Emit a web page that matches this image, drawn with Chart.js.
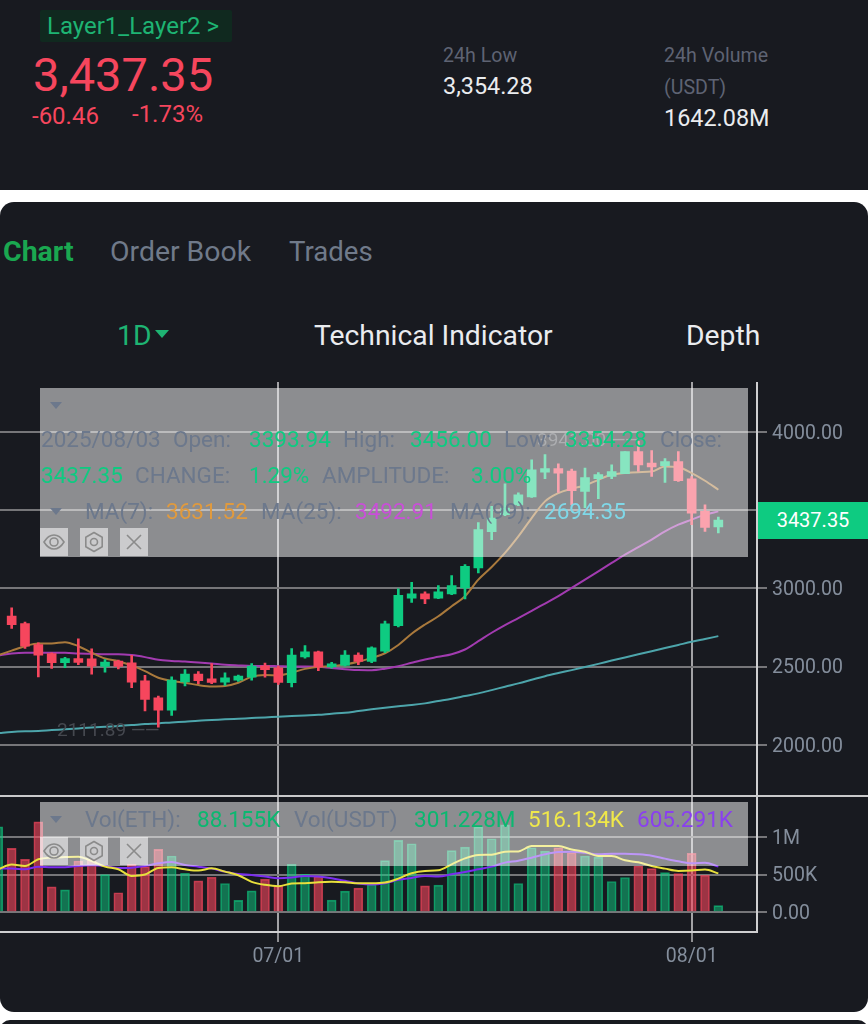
<!DOCTYPE html>
<html>
<head>
<meta charset="utf-8">
<title>ETH 1D</title>
<script src="https://cdn.jsdelivr.net/npm/chart.js@4"></script>
<style>
html, body { margin: 0; padding: 0; background: #fff; }
#page { position: relative; width: 868px; height: 1024px; overflow: hidden; background: #fff; font-family: Roboto, sans-serif; }
.block { position: absolute; background: #181a20; }
.t { position: absolute; white-space: nowrap; transform: translateY(-50%); z-index: 6; }
.lbl { font-size: 22.5px; color: #6c788c; }
.gr { font-size: 22.5px; color: #0ecb81; }
.hdr { font-size: 19.6px; color: #5e6373; }
.val { font-size: 23.4px; color: #eaecef; }
.tab { font-size: 27.6px; color: #707a8a; }
.btn { font-size: 28.3px; color: #eaecef; }
.ov { position: absolute; left: 40px; width: 708px; background: rgba(255,255,255,0.5); z-index: 4; }
.ico { position: absolute; width: 28px; height: 28px; background: rgba(255,255,255,0.55); z-index: 5; }
.ico svg { display: block; width: 28px; height: 28px; fill: none; stroke: #8b8b8b; stroke-width: 1.6; }
.tri { position: absolute; width: 0; height: 0; border-left: 6px solid transparent; border-right: 6px solid transparent; border-top: 7px solid #6c788c; z-index: 5; }
.mark { position: absolute; white-space: nowrap; transform: translateY(-50%); font-size: 19px; z-index: 3; }
canvas { position: absolute; left: 0; top: 382px; z-index: 2; }
</style>
</head>
<body>
<div id="page">
  <div class="block" style="left:0;top:0;width:868px;height:190px"></div>
  <div class="block" style="left:0;top:202px;width:868px;height:810px;border-radius:14px"></div>
  <div class="block" style="left:0;top:1020px;width:868px;height:30px;border-radius:10px"></div>

  <div style="position:absolute;left:40px;top:10px;width:192px;height:32px;background:#10291f;border-radius:2px"></div>
  <span class="t" style="left:47px;top:26px;font-size:24px;color:#1eb473">Layer1_Layer2 &gt;</span>
  <span class="t" style="left:33px;top:74px;font-size:47px;color:#f6465d">3,437.35</span>
  <span class="t" style="left:32px;top:116px;font-size:24px;color:#f6465d">-60.46</span>
  <span class="t" style="left:132px;top:114px;font-size:24px;color:#f6465d">-1.73%</span>
  <span class="t hdr" style="left:443px;top:55px">24h Low</span>
  <span class="t val" style="left:443px;top:86px">3,354.28</span>
  <span class="t hdr" style="left:664px;top:55px">24h Volume</span>
  <span class="t hdr" style="left:664px;top:87px">(USDT)</span>
  <span class="t val" style="left:664px;top:118px">1642.08M</span>

  <span class="t tab" style="left:3px;top:251px;font-size:28.5px;font-weight:700;color:#1aa750">Chart</span>
  <span class="t tab" style="left:110px;top:251px;font-size:28.4px">Order Book</span>
  <span class="t tab" style="left:289px;top:251px">Trades</span>
  <span class="t btn" style="left:117px;top:335px;color:#1eb473">1D</span>
  <div class="tri" style="left:155px;top:330px;border-top-color:#1eb473;border-left-width:7px;border-right-width:7px;border-top-width:8px"></div>
  <span class="t btn" style="left:314px;top:335px">Technical Indicator</span>
  <span class="t btn" style="left:686px;top:335px">Depth</span>

  <canvas id="grafica" width="868" height="600"></canvas>

  <div style="position:absolute;left:0;top:795px;width:868px;height:2px;background:#c9c9cb;z-index:3"></div>
  <span class="mark" style="left:57px;top:729px;color:#45484f">2111.89 <span style="letter-spacing:-1px">——</span></span>
  <span class="mark" style="left:537px;top:439px;color:#5a5d63">3941.00 <span style="letter-spacing:-1px">——</span></span>

  <div class="ov" style="top:388px;height:169px"></div>
  <div class="ov" style="top:802px;height:64px"></div>

  <div class="tri" style="left:50px;top:402px"></div>
  <span class="t lbl" style="left:41px;top:439px">2025/08/03</span>
  <span class="t lbl" style="left:173px;top:439px">Open:</span>
  <span class="t gr" style="left:249px;top:439px">3393.94</span>
  <span class="t lbl" style="left:343px;top:439px">High:</span>
  <span class="t gr" style="left:410px;top:439px">3456.00</span>
  <span class="t lbl" style="left:504px;top:439px">Low:</span>
  <span class="t gr" style="left:565px;top:439px">3354.28</span>
  <span class="t lbl" style="left:660px;top:439px">Close:</span>

  <span class="t gr" style="left:41px;top:475px">3437.35</span>
  <span class="t lbl" style="left:135px;top:475px">CHANGE:</span>
  <span class="t gr" style="left:249px;top:475px">1.29%</span>
  <span class="t lbl" style="left:322px;top:475px">AMPLITUDE:</span>
  <span class="t gr" style="left:471px;top:475px">3.00%</span>

  <div class="tri" style="left:50px;top:508px"></div>
  <span class="t lbl" style="left:85px;top:511px">MA(7):</span>
  <span class="t gr" style="left:166px;top:511px;color:#e09a3e">3631.52</span>
  <span class="t lbl" style="left:261px;top:511px">MA(25):</span>
  <span class="t gr" style="left:355px;top:511px;color:#c94fd8">3492.91</span>
  <span class="t lbl" style="left:450px;top:511px">MA(99):</span>
  <span class="t gr" style="left:544px;top:511px;color:#7fd8e8">2694.35</span>

  <div class="ico" style="left:40px;top:528px"><svg viewBox="0 0 28 28"><path d="M4 14c3-5 6-7 10-7s7 2 10 7c-3 5-6 7-10 7s-7-2-10-7z"/><circle cx="14" cy="14" r="4"/></svg></div>
  <div class="ico" style="left:80px;top:528px"><svg viewBox="0 0 28 28"><path d="M14 4.5l8.2 4.7v9.6L14 23.5l-8.2-4.7V9.2z" stroke-linejoin="round"/><circle cx="14" cy="14" r="3.5"/></svg></div>
  <div class="ico" style="left:120px;top:528px"><svg viewBox="0 0 28 28"><path d="M7 7l14 14M21 7L7 21"/></svg></div>

  <div class="tri" style="left:50px;top:816px"></div>
  <span class="t lbl" style="left:85px;top:819px">Vol(ETH):</span>
  <span class="t gr" style="left:197px;top:819px;color:#0bb870">88.155K</span>
  <span class="t lbl" style="left:294px;top:819px">Vol(USDT)</span>
  <span class="t gr" style="left:414px;top:819px;color:#0bb870">301.228M</span>
  <span class="t gr" style="left:528px;top:819px;color:#f0e84a">516.134K</span>
  <span class="t gr" style="left:637px;top:819px;color:#8a3ff0">605.291K</span>

  <div class="ico" style="left:40px;top:837px"><svg viewBox="0 0 28 28"><path d="M4 14c3-5 6-7 10-7s7 2 10 7c-3 5-6 7-10 7s-7-2-10-7z"/><circle cx="14" cy="14" r="4"/></svg></div>
  <div class="ico" style="left:80px;top:837px"><svg viewBox="0 0 28 28"><path d="M14 4.5l8.2 4.7v9.6L14 23.5l-8.2-4.7V9.2z" stroke-linejoin="round"/><circle cx="14" cy="14" r="3.5"/></svg></div>
  <div class="ico" style="left:120px;top:837px"><svg viewBox="0 0 28 28"><path d="M7 7l14 14M21 7L7 21"/></svg></div>

  <div style="position:absolute;left:758px;top:502px;width:110px;height:37px;line-height:37px;background:#0ecb81;color:#fff;font-size:20px;text-align:center;z-index:5">3437.35</div>
</div>

<script>
// Dias de la grafica, 06/10 a 08/03
const dates = ["06/10","06/11","06/12","06/13","06/14","06/15","06/16","06/17","06/18","06/19","06/20","06/21","06/22","06/23","06/24","06/25","06/26","06/27","06/28","06/29","06/30",
  "07/01","07/02","07/03","07/04","07/05","07/06","07/07","07/08","07/09","07/10","07/11","07/12","07/13","07/14","07/15","07/16","07/17","07/18","07/19","07/20","07/21","07/22","07/23","07/24","07/25","07/26","07/27","07/28","07/29","07/30","07/31",
  "08/01","08/02","08/03"];

const opens = [null,2822,2775,2641,2583,2524,2551,2549,2500,2534,2524,2409,2300,2221,2402,2451,2421,2400,2413,2432,2504,2492,2396,2562,2594,2498,2507,2573,2532,2598,2762,2937,2965,2937,2965,3003,3131,3363,3472,3535,3585,3744,3767,3751,3620,3702,3716,3735,3876,3802,3785,3812,3702,3493,3393.94];
const closes = [null,2767,2630,2573,2524,2551,2526,2502,2528,2500,2400,2289,2221,2413,2451,2409,2398,2428,2438,2502,2479,2398,2573,2594,2498,2517,2573,2532,2620,2773,2956,2965,2933,2978,3018,3141,3376,3450,3514,3599,3759,3767,3738,3625,3710,3729,3748,3876,3791,3778,3812,3689,3482,3390,3437.35];
const highs = [null,2875,2784,2652,2588,2558,2677,2613,2545,2541,2571,2443,2311,2434,2481,2468,2519,2460,2445,2519,2522,2502,2615,2634,2598,2526,2602,2588,2626,2790,2997,3039,2978,3018,3082,3152,3422,3525,3670,3612,3823,3857,3797,3764,3770,3742,3791,3876,3941,3882,3831,3876,3716,3535,3456];
const lows = [null,2743,2615,2434,2487,2492,2511,2451,2464,2485,2364,2215,2111.89,2187,2375,2390,2390,2379,2404,2413,2432,2385,2370,2554,2473,2490,2502,2511,2524,2588,2754,2911,2903,2935,2960,2933,3099,3312,3465,3529,3583,3702,3614,3535,3516,3574,3702,3735,3748,3716,3678,3684,3408,3365,3354.28];

const ma7 = [2573,2602,2630,2647,2647,2656,2630,2588,2551,2534,2507,2470,2428,2407,2396,2381,2372,2375,2396,2434,2445,2443,2460,2485,2498,2502,2513,2530,2555,2585,2638,2710,2769,2822,2886,2950,3056,3137,3227,3333,3450,3557,3610,3638,3659,3695,3727,3738,3744,3748,3780,3776,3738,3689,3631.52];
const ma25 = [2570,2583,2588,2588,2588,2588,2583,2581,2579,2579,2573,2560,2543,2536,2532,2526,2519,2511,2507,2504,2504,2502,2500,2500,2498,2490,2483,2477,2476,2486,2502,2524,2545,2562,2579,2609,2662,2716,2765,2810,2856,2903,2950,3003,3056,3109,3163,3216,3264,3312,3365,3408,3440,3472,3492.91];
const ma99 = [2074,2081,2085,2087,2093,2098,2104,2110,2115,2119,2125,2132,2136,2142,2147,2153,2157,2162,2166,2170,2174,2179,2183,2187,2191,2198,2204,2215,2226,2236,2245,2253,2264,2279,2294,2311,2328,2349,2371,2392,2415,2438,2458,2477,2497,2517,2538,2558,2578,2598,2618,2638,2658,2676,2694.35];

// Volumen en miles
const volumes = [1132,846,702,1197,338,298,680,702,500,259,636,605,833,746,518,417,465,382,158,285,439,351,636,504,474,162,281,320,373,684,952,908,351,360,816,864,1132,974,1158,382,855,811,855,789,746,732,408,461,614,579,526,513,781,491,88.155];
const volMa5 = [570,632,614,702,724,732,737,680,605,570,482,500,588,596,570,553,583,539,491,404,364,346,382,386,399,404,399,386,386,395,447,518,548,557,636,715,759,763,803,807,877,877,877,833,803,746,746,689,662,614,579,548,553,566,516.134];
const volMa10 = [579,579,570,605,596,596,614,623,614,588,592,614,649,667,627,605,579,539,509,496,474,452,461,482,474,452,417,382,368,386,430,456,482,474,504,535,570,605,658,684,724,768,798,803,789,768,776,776,768,750,711,675,649,658,605.291];

const priceTicks = [2000, 2500, 3000, 3500, 4000];
const volTicks = [0, 500, 1000];
const volTickLabels = ["0.00", "500K", "1M"];
const dateTicks = ["07/01", "08/01"];

const VERDE = "#0ecb81";
const ROJO = "#f6465d";
const fuente = { family: "Roboto", size: 19.5 };

function serie(valores) {
    return valores.map((v, i) => ({ x: i, y: v }));
}

function rango(a, b) {
    return a.map((v, i) => ({ x: i, y: v === null ? null : [v, b[i]] }));
}

function lineaMA(label, datos, color, ejeY, orden, ancho) {
    return {
        type: "line",
        label: label,
        data: serie(datos),
        yAxisID: ejeY,
        borderColor: color,
        borderWidth: ancho,
        pointRadius: 0,
        cubicInterpolationMode: "monotone",
        order: orden
    };
}

// Sin margen extra de las etiquetas, el area de datos queda fija
function ajustarEjeY(s) {
    s.width = 111;
    s.paddingTop = 0;
    s.paddingBottom = 0;
}

const colorVela = opens.map((o, i) => closes[i] < o ? ROJO : VERDE);
const colorVol = opens.map((o, i) => closes[i] < o ? "rgba(246,70,93,0.6)" : "rgba(14,203,129,0.5)");
const bordeVol = opens.map((o, i) => closes[i] < o ? "rgba(246,70,93,0.7)" : "rgba(14,203,129,0.65)");

new Chart(document.getElementById("grafica").getContext("2d"), {
    data: {
        datasets: [
            { type: "bar", label: "Body", data: rango(opens, closes), yAxisID: "y", backgroundColor: colorVela, barThickness: 9, grouped: false, order: 1 },
            { type: "bar", label: "Wick", data: rango(lows, highs), yAxisID: "y", backgroundColor: colorVela, barThickness: 2, grouped: false, order: 2 },
            lineaMA("MA(7)", ma7, "#a9793c", "y", 3, 2),
            lineaMA("MA(25)", ma25, "#a23bb0", "y", 3, 2),
            lineaMA("MA(99)", ma99, "#4da5ab", "y", 3, 2),
            { type: "bar", label: "Vol", data: serie(volumes), yAxisID: "y2", backgroundColor: colorVol, borderColor: bordeVol, borderWidth: 1, barThickness: 9, grouped: false, order: 6 },
            lineaMA("MA5", volMa5, "#e8e03c", "y2", 4, 2),
            lineaMA("MA10", volMa10, "#7b2df0", "y2", 5, 2)
        ]
    },
    options: {
        responsive: false,
        animation: false,
        events: [],
        layout: { padding: 0 },
        plugins: { legend: { display: false }, tooltip: { enabled: false } },
        scales: {
            x: {
                type: "linear",
                offset: false,
                min: 0.125,
                max: 56.9,
                afterBuildTicks: s => { s.ticks = dateTicks.map(d => ({ value: dates.indexOf(d) })); },
                afterFit: s => { s.height = 50; s.paddingLeft = 0; s.paddingRight = 0; },
                ticks: { autoSkip: false, maxRotation: 0, color: "#848e9c", font: fuente, padding: 3, callback: v => dates[v] },
                grid: { offset: false, color: "#a3a3a6", lineWidth: 2, tickLength: 10, tickColor: "#8f8f92" },
                border: { color: "#cfcfd1", width: 2 }
            },
            y: {
                position: "right",
                stack: "panel",
                stackWeight: 414,
                min: 1676,
                max: 4321,
                afterBuildTicks: s => { s.ticks = priceTicks.map(v => ({ value: v })); },
                afterFit: ajustarEjeY,
                ticks: { color: "#848e9c", font: fuente, padding: 5, labelOffset: 2, callback: v => v.toFixed(2) },
                grid: { color: "#767679", lineWidth: 2, tickLength: 10 },
                border: { color: "#cfcfd1", width: 2 }
            },
            y2: {
                position: "right",
                stack: "panel",
                stackWeight: 137,
                min: -260,
                max: 1550,
                afterBuildTicks: s => { s.ticks = volTicks.map(v => ({ value: v })); },
                afterFit: ajustarEjeY,
                ticks: { color: "#848e9c", font: fuente, padding: 5, labelOffset: 2, callback: v => volTickLabels[volTicks.indexOf(v)] },
                grid: { color: "#767679", lineWidth: 2, tickLength: 10 },
                border: { color: "#cfcfd1", width: 2 }
            }
        }
    }
});
</script>
</body>
</html>
